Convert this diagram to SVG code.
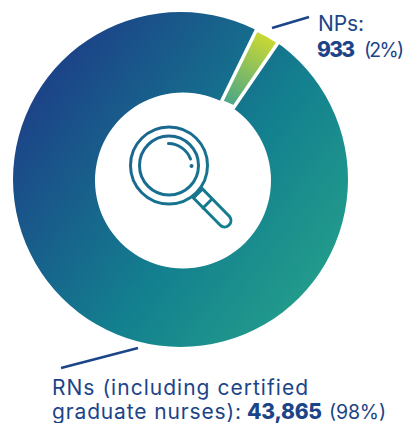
<svg xmlns="http://www.w3.org/2000/svg" width="406" height="423" viewBox="0 0 406 423">
<defs>
<linearGradient id="ring" gradientUnits="userSpaceOnUse" x1="50" y1="80" x2="320" y2="280"><stop offset="0" stop-color="#1c4488"/><stop offset="0.6" stop-color="#13808f"/><stop offset="1" stop-color="#229b8b"/></linearGradient>
<linearGradient id="wedge" gradientUnits="userSpaceOnUse" x1="268" y1="36" x2="228" y2="104"><stop offset="0" stop-color="#cbd932"/><stop offset="1" stop-color="#4aa688"/></linearGradient>
<linearGradient id="icon" gradientUnits="userSpaceOnUse" x1="130" y1="135" x2="230" y2="228"><stop offset="0" stop-color="#1c6390"/><stop offset="1" stop-color="#13808f"/></linearGradient>
</defs>
<style>
.t{font-family:"Inter","Liberation Sans",sans-serif;font-size:21px;fill:#1c4488}
.b{font-weight:800}
.p{font-size:19.500px}
.lead{stroke:#1c4488;stroke-width:2.6;fill:none}
.ic{fill:none;stroke:url(#icon);stroke-width:3;stroke-linecap:round}
</style>
<g id="connectors">
<line class="lead" x1="272" y1="28" x2="309" y2="17"/>
<line class="lead" x1="61" y1="368" x2="138" y2="348"/>
</g>
<g id="donut">
<path fill="url(#ring)" fill-rule="evenodd" d="M180.5 12a167.5 167.500 0 1 0 .01 0zM183 92.500a88 88 0 1 1 -.01 0z"/>
</g>
<g id="node-nps">
<path fill="url(#wedge)" stroke="#fff" stroke-width="3.500" d="M256.500 29.700A168 168 0 0 1 278.500 42L234 107L221.500 101.500Z"/>
</g>
<g id="icon-magnifier">
<circle class="ic" cx="169" cy="165.500" r="38.500"/>
<circle class="ic" cx="169" cy="165.500" r="29.500"/>
<path class="ic" d="M168.500 143.500A24 24 0 0 1 190.500 159"/>
<circle cx="191.500" cy="166" r="2" fill="#1c6a90"/>
<path class="ic" d="M193.500 198L202.500 189L229.500 216.500A6.400 6.400 0 0 1 220.500 225.500Z"/>
<path class="ic" d="M203 208L212 199"/>
</g>
<g id="label-nps">
<text class="t" x="318" y="31" textLength="46">NPs:</text>
<text class="t b" x="317" y="57" textLength="38">933</text>
<text class="t p" x="364" y="57" textLength="40">(2%)</text>
</g>
<g id="label-rns">
<text class="t" x="52" y="395" textLength="256">RNs (including certified</text>
<text class="t" x="52" y="419" textLength="189">graduate nurses):</text>
<text class="t b" x="247" y="419" textLength="75">43,865</text>
<text class="t p" x="329" y="419" textLength="57">(98%)</text>
</g>
</svg>
